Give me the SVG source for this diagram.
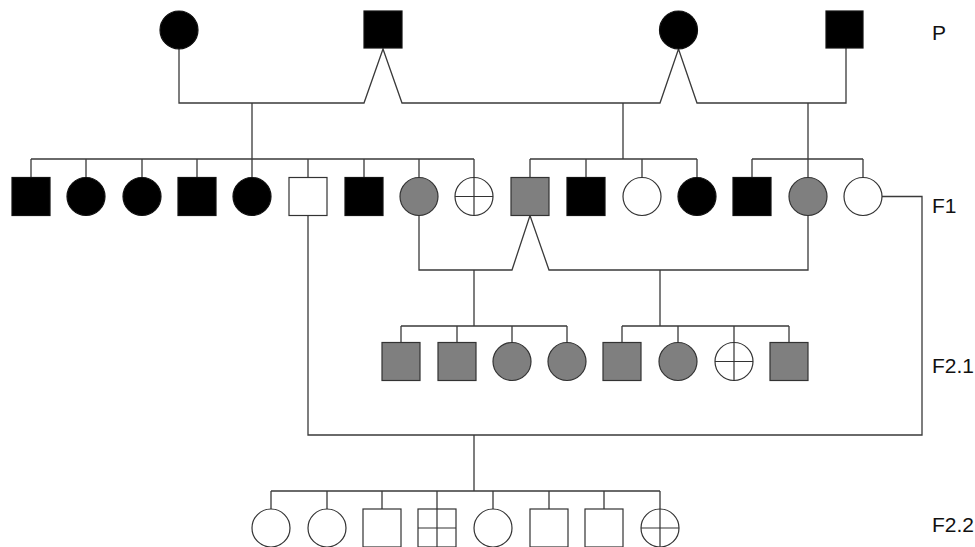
<svg xmlns="http://www.w3.org/2000/svg" width="975" height="547" viewBox="0 0 975 547">
<style>
.ln{fill:none;stroke:#3a3a3a;stroke-width:1.3}
.blk{fill:#000;stroke:#111;stroke-width:1.2}
.gry{fill:#7f7f7f;stroke:#333;stroke-width:1.2}
.wht{fill:#fff;stroke:#333;stroke-width:1.2}
.x{fill:none;stroke:#333;stroke-width:1.2}
.lbl{font-family:"Liberation Sans",Arial,sans-serif;font-size:21px;fill:#111}
</style>
<rect width="975" height="547" fill="#fff"/>
<g id="connectors">
<path class="ln" d="M179 49V103H364L383 49L402 103H660L678.5 49L697 103H846V48"/>
<path class="ln" d="M252 103V159M31 159H474M31 159V177.5M86 159V177.5M142 159V177.5M197 159V177.5M252 159V177.5M308 159V177.5M364 159V177.5M419 159V177.5M474 159V177.5"/>
<path class="ln" d="M623 103V159M530 159H697M530 159V177.5M586 159V177.5M642 159V177.5M697 159V177.5"/>
<path class="ln" d="M808 103V159M752 159H863M752 159V177.5M808 159V177.5M863 159V177.5"/>
<path class="ln" d="M419 215.5V270H512L530 215.5L549 270H808V215.5"/>
<path class="ln" d="M474 270V326M401 326H567M401 326V342.5M457 326V342.5M512 326V342.5M567 326V342.5"/>
<path class="ln" d="M660 270V326M622 326H789M622 326V342.5M678 326V342.5M734 326V342.5M789 326V342.5"/>
<path class="ln" d="M308 215.5V435H922V196.5H882"/>
<path class="ln" d="M474 435V491M271 491H660M271 491V509M327 491V509M382 491V509M437 491V509M493 491V509M549 491V509M604 491V509M660 491V509"/>
</g>
<g id="p1"><circle class="blk" cx="179" cy="30" r="19"/></g>
<g id="p2"><rect class="blk" x="364" y="11" width="38" height="37"/></g>
<g id="p3"><circle class="blk" cx="678.5" cy="30" r="19"/></g>
<g id="p4"><rect class="blk" x="826" y="11" width="37" height="37"/></g>

<g id="f1a"><rect class="blk" x="12" y="177.5" width="38" height="38"/></g>
<g id="f1b"><circle class="blk" cx="86" cy="196.5" r="19"/></g>
<g id="f1c"><circle class="blk" cx="142" cy="196.5" r="19"/></g>
<g id="f1d"><rect class="blk" x="178" y="177.5" width="38" height="38"/></g>
<g id="f1e"><circle class="blk" cx="252" cy="196.5" r="19"/></g>
<g id="f1f"><rect class="wht" x="289" y="177.5" width="38" height="38"/></g>
<g id="f1g"><rect class="blk" x="345" y="177.5" width="38" height="38"/></g>
<g id="f1h"><circle class="gry" cx="419" cy="196.5" r="19"/></g>
<g id="f1i"><circle class="wht" cx="474" cy="196.5" r="19"/><path class="x" d="M474 177.5V215.5M455 196.5H493"/></g>
<g id="f1j"><rect class="gry" x="511" y="177.5" width="38" height="38"/></g>
<g id="f1k"><rect class="blk" x="567" y="177.5" width="38" height="38"/></g>
<g id="f1l"><circle class="wht" cx="642" cy="196.5" r="19"/></g>
<g id="f1m"><circle class="blk" cx="697" cy="196.5" r="19"/></g>
<g id="f1n"><rect class="blk" x="733" y="177.5" width="38" height="38"/></g>
<g id="f1o"><circle class="gry" cx="808" cy="196.5" r="19"/></g>
<g id="f1p"><circle class="wht" cx="863" cy="196.5" r="19"/></g>

<g id="f21a"><rect class="gry" x="382" y="342.5" width="38" height="38"/></g>
<g id="f21b"><rect class="gry" x="438" y="342.5" width="38" height="38"/></g>
<g id="f21c"><circle class="gry" cx="512" cy="361.5" r="19"/></g>
<g id="f21d"><circle class="gry" cx="567" cy="361.5" r="19"/></g>
<g id="f21e"><rect class="gry" x="603" y="342.5" width="38" height="38"/></g>
<g id="f21f"><circle class="gry" cx="678" cy="361.5" r="19"/></g>
<g id="f21g"><circle class="wht" cx="734" cy="361.5" r="19"/><path class="x" d="M734 342.5V380.5M715 361.5H753"/></g>
<g id="f21h"><rect class="gry" x="770" y="342.5" width="38" height="38"/></g>

<g id="f22a"><circle class="wht" cx="271" cy="528" r="19"/></g>
<g id="f22b"><circle class="wht" cx="327" cy="528" r="19"/></g>
<g id="f22c"><rect class="wht" x="363" y="509" width="38" height="38"/></g>
<g id="f22d"><rect class="wht" x="418" y="509" width="38" height="38"/><path class="x" d="M437 509V547M418 528H456"/></g>
<g id="f22e"><circle class="wht" cx="493" cy="528" r="19"/></g>
<g id="f22f"><rect class="wht" x="530" y="509" width="38" height="38"/></g>
<g id="f22g"><rect class="wht" x="585" y="509" width="38" height="38"/></g>
<g id="f22h"><circle class="wht" cx="660" cy="528" r="19"/><path class="x" d="M660 509V547M641 528H679"/></g>

<g id="labels">
<text class="lbl" x="932" y="40">P</text>
<text class="lbl" x="932" y="213">F1</text>
<text class="lbl" x="932" y="373">F2.1</text>
<text class="lbl" x="932" y="532">F2.2</text>
</g>
</svg>
